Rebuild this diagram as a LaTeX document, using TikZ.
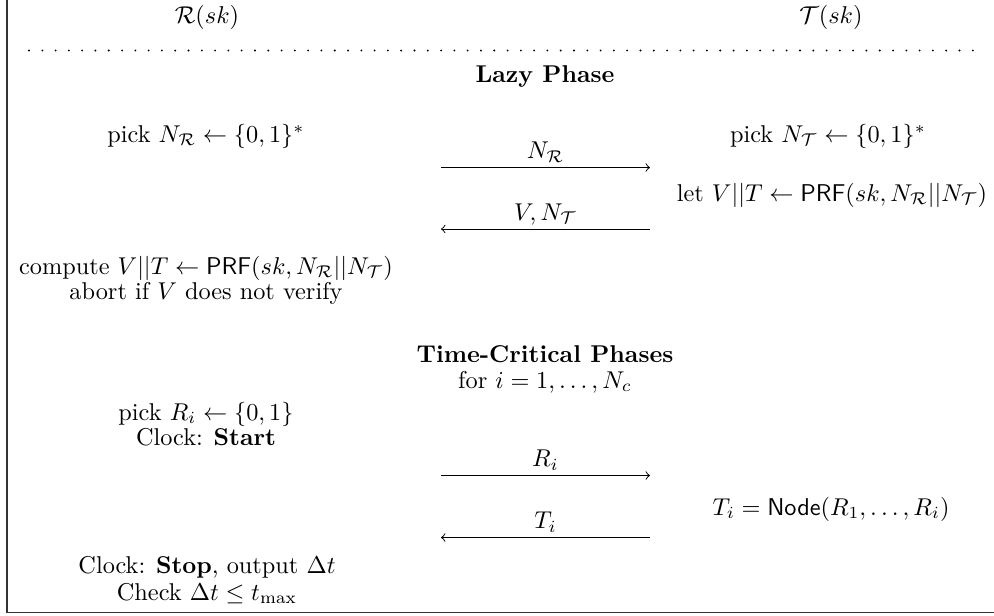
\documentclass[tikz,border=0pt]{standalone}
\usepackage{amsmath}
\begin{document}
\begin{tikzpicture}[x=0.4115pt,y=-0.4115pt,
  txt/.style={anchor=base,inner sep=0pt,outer sep=0pt,font=\normalsize},
  msg/.style={->,line width=0.4pt},
  lbl/.style={anchor=base,inner sep=0pt,yshift=3.6pt},
  frameline/.style={line width=0.7pt,draw=black!80},
  dotline/.style={line width=0.85pt,line cap=round,dash pattern=on 0pt off 5.47pt}
]
\useasboundingbox (0,0) rectangle (994,615);
% frame
\coordinate (ftop) at (7,0);
\coordinate (fcorner) at (7,612.5);
\coordinate (fright) at (994,612.5);
\draw[frameline] (ftop) -- (fcorner) -- (fright);
% headers
\node[txt] (hR) at (207,23) {$\mathcal{R}(sk)$};
\node[txt] (hT) at (831,23) {$\mathcal{T}(sk)$};
\coordinate (dl) at (29,50.5);
\coordinate (dr) at (978,50.5);
\draw[dotline] (dl) -- (dr);
% lazy phase
\node[txt] (lazy) at (545,82) {\textbf{Lazy Phase}};
\node[txt] (pickNR) at (206,142) {pick $N_{\mathcal{R}} \leftarrow \{0,1\}^*$};
\node[txt] (pickNT) at (828,142) {pick $N_{\mathcal{T}} \leftarrow \{0,1\}^*$};
\node[txt] (letV) at (832,201) {let $V||T \leftarrow \mathsf{PRF}(sk, N_{\mathcal{R}}||N_{\mathcal{T}})$};
\coordinate (m1s) at (441,167.5);
\coordinate (m1e) at (650,167.5);
\draw[msg] (m1s) -- node[lbl] (l1) {$N_{\mathcal{R}}$} (m1e);
\coordinate (m2s) at (650,229);
\coordinate (m2e) at (441,229);
\draw[msg] (m2s) -- node[lbl] (l2) {$V, N_{\mathcal{T}}$} (m2e);
\node[txt] (comp) at (206,274) {compute $V||T \leftarrow \mathsf{PRF}(sk, N_{\mathcal{R}}||N_{\mathcal{T}})$};
\node[txt] (abort) at (206,299) {abort if $V$ does not verify};
% time-critical
\node[txt] (tcp) at (545,362) {\textbf{Time-Critical Phases}};
\node[txt] (fori) at (545,388) {for $i = 1, \ldots, N_c$};
\node[txt] (pickR) at (206,420) {pick $R_i \leftarrow \{0,1\}$};
\node[txt] (start) at (206,445) {Clock: \textbf{Start}};
\coordinate (m3s) at (441,475.5);
\coordinate (m3e) at (650,475.5);
\draw[msg] (m3s) -- node[lbl] (l3) {$R_i$} (m3e);
\node[txt] (Ti) at (831,515) {$T_i = \mathsf{Node}(R_1, \ldots, R_i)$};
\coordinate (m4s) at (650,537.5);
\coordinate (m4e) at (441,537.5);
\draw[msg] (m4s) -- node[lbl] (l4) {$T_i$} (m4e);
\node[txt] (stop) at (207,573) {Clock: \textbf{Stop}, output $\Delta t$};
\node[txt] (check) at (207,600) {Check $\Delta t \leq t_{\max}$};
\end{tikzpicture}
\end{document}
